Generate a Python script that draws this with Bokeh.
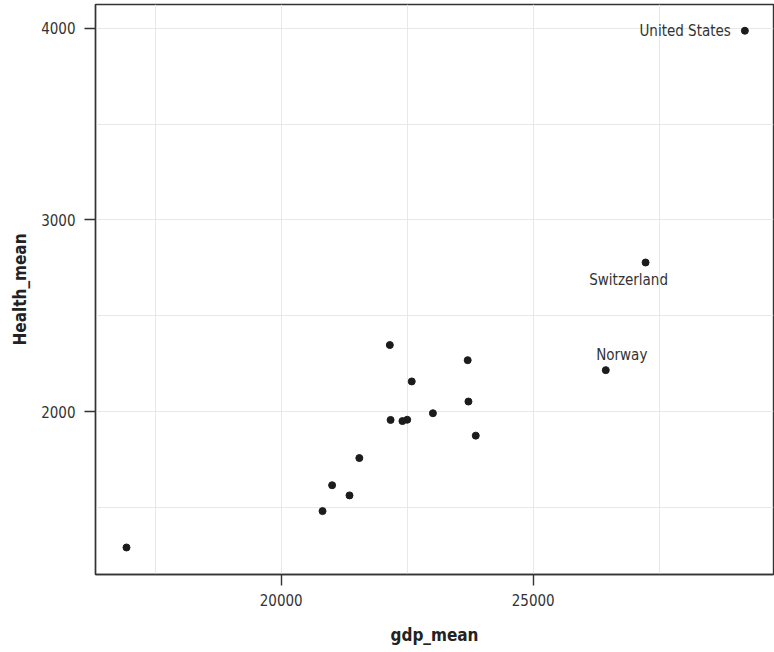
from bokeh.plotting import figure
from bokeh.models import FixedTicker, Range1d, ColumnDataSource
from bokeh.core.properties import value
from bokeh.embed import file_html
from bokeh.resources import INLINE

# Data
gdp_mean = [16930, 20820, 21010, 21355, 21550, 22155, 22170, 22405, 22500,
            22590, 23010, 23700, 23715, 23860, 26440, 27230, 29200]
health_mean = [1290, 1480, 1615, 1562, 1757, 2347, 1956, 1950, 1957,
               2157, 1991, 2268, 2052, 1874, 2216, 2778, 3988]
labels = ["", "", "", "", "", "", "", "", "",
          "", "", "", "", "", "Norway", "Switzerland", "United States"]

x_ticks = [20000, 25000]
x_minor = [17500, 22500, 27500]
y_ticks = [2000, 3000, 4000]
y_minor = [1500, 2500, 3500]

FONT = "DejaVu Sans Condensed, Roboto, sans-serif"
TXT = "#333333"

p = figure(width=774, height=652, output_backend="svg", toolbar_location=None,
           x_range=Range1d(16315, 29768), y_range=Range1d(1149, 4125),
           min_border_left=95, min_border_right=1, min_border_top=4,
           min_border_bottom=78)
p.background_fill_color = "white"
p.border_fill_color = "white"
p.outline_line_color = "#333333"
p.outline_line_width = 1.4

p.xaxis.ticker = FixedTicker(ticks=x_ticks, minor_ticks=x_minor)
p.yaxis.ticker = FixedTicker(ticks=y_ticks, minor_ticks=y_minor)

for ax in (p.xaxis[0], p.yaxis[0]):
    ax.axis_line_color = "#333333"
    ax.axis_line_width = 1.4
    ax.major_tick_line_color = "#333333"
    ax.major_tick_line_width = 1.4
    ax.major_tick_out = 11
    ax.major_tick_in = 0
    ax.minor_tick_line_color = None
    ax.major_label_text_font = FONT
    ax.major_label_text_font_size = "15px"
    ax.major_label_text_color = TXT
    ax.axis_label_text_font = FONT
    ax.axis_label_text_font_size = "17px"
    ax.axis_label_text_font_style = "bold"
    ax.axis_label_text_color = "#222222"

p.xaxis.axis_label = "gdp_mean"
p.yaxis.axis_label = "Health_mean"
p.xaxis.major_label_standoff = 8
p.xaxis.axis_label_standoff = 16
p.yaxis.major_label_standoff = 9
p.yaxis.axis_label_standoff = 8

for g in (p.xgrid[0], p.ygrid[0]):
    g.grid_line_color = "#e8e8e8"
    g.grid_line_width = 1
    g.minor_grid_line_color = "#e8e8e8"
    g.minor_grid_line_width = 1

src = ColumnDataSource(dict(x=gdp_mean, y=health_mean, label=labels))
p.scatter("x", "y", source=src, size=7, color="#1c1c1c", line_color="#1c1c1c")

# label styles (placement relative to each point)
label_style = {
    "United States": dict(text_align="right", text_baseline="middle", x_offset=-14, y_offset=0),
    "Switzerland": dict(text_align="center", text_baseline="middle", x_offset=-17, y_offset=18),
    "Norway": dict(text_align="center", text_baseline="middle", x_offset=16, y_offset=-15),
}
for i, name in enumerate(labels):
    if not name:
        continue
    st = label_style[name]
    p.text(x=[gdp_mean[i]], y=[health_mean[i]], text=[name],
           text_font=value(FONT), text_font_size="15px", text_color=TXT, **st)

open("out.html", "w").write(file_html(p, INLINE))
